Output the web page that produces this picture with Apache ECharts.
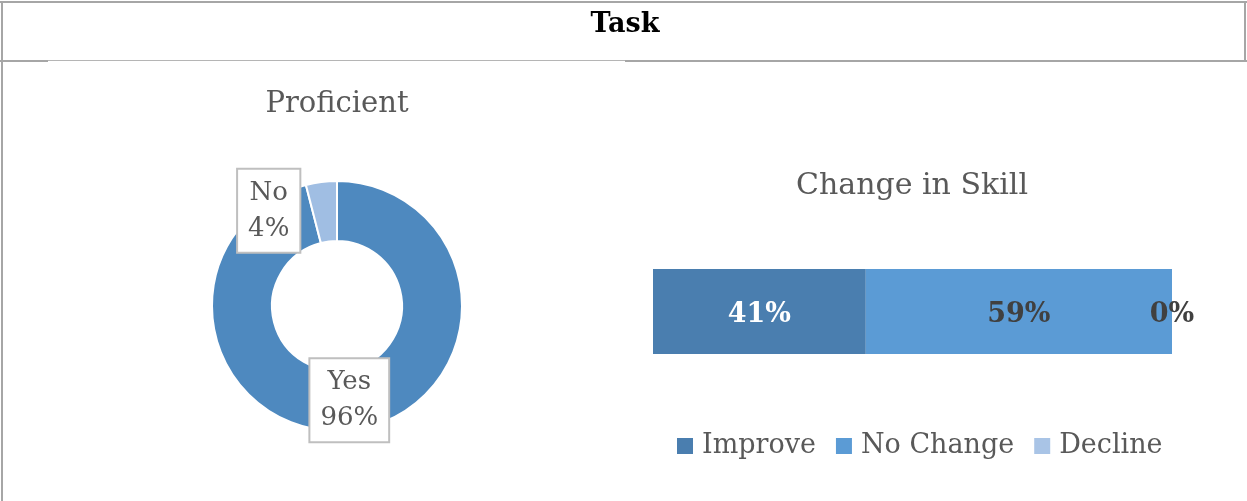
<!DOCTYPE html>
<html>
<head>
<meta charset="utf-8">
<script src="https://cdn.jsdelivr.net/npm/echarts@6/dist/echarts.min.js"></script>
<style>
html,body{margin:0;padding:0;background:#fff;}
#chart{width:1247px;height:501px;}
</style>
</head>
<body>
<div id="chart"></div>
<script>
// ---- data ----
const mainTitle = 'Task';
const pieTitle = 'Proficient';
const pieCategories = ['Yes', 'No'];
const pieValues = [96, 4];
const barTitle = 'Change in Skill';
const barRowLabel = ['Task'];
const barCategories = ['Improve', 'No Change', 'Decline'];
const barValues = [41, 59, 0];

// ---- style ----
const SERIF = 'DejaVu Serif';
const GRAY_TEXT = '#595959';
const RULE = '#a6a6a6';
const pieColors = ['#4E89BF', '#A0BEE3'];
const barColors = ['#4A7EAF', '#5B9BD5', '#A9C4E6'];
const barLabelColors = ['#ffffff', '#404040', '#404040'];

const chart = echarts.init(document.getElementById('chart'), null, {renderer: 'canvas'});

const option = {
  animation: false,
  backgroundColor: '#ffffff',
  title: [
    {text: mainTitle, left: 625, top: 11, textAlign: 'center', padding: 0,
     textStyle: {fontFamily: SERIF, fontSize: 27, fontWeight: 'bold', color: '#000'}},
    {text: pieTitle, left: 337, top: 90, textAlign: 'center', padding: 0,
     textStyle: {fontFamily: SERIF, fontSize: 29, fontWeight: 'normal', color: GRAY_TEXT}},
    {text: barTitle, left: 912, top: 171, textAlign: 'center', padding: 0,
     textStyle: {fontFamily: SERIF, fontSize: 30, fontWeight: 'normal', color: GRAY_TEXT}}
  ],
  legend: {
    data: barCategories,
    left: 677,
    top: 430,
    icon: 'rect',
    itemWidth: 16,
    itemHeight: 16,
    itemGap: 20,
    padding: 0,
    selectedMode: false,
    textStyle: {fontFamily: SERIF, fontSize: 27, color: GRAY_TEXT, lineHeight: 32, padding: [0, 0, 0, 4]}
  },
  grid: {left: 653, top: 269, width: 519, height: 85, containLabel: false},
  xAxis: {type: 'value', min: 0, max: 100, show: false},
  yAxis: {type: 'category', data: barRowLabel, show: false},
  series: [
    {
      type: 'pie',
      center: [337, 306],
      radius: [65, 125],
      startAngle: 90,
      clockwise: true,
      silent: true,
      itemStyle: {borderColor: '#fff', borderWidth: 2},
      label: {
        show: true,
        position: 'inside',
        formatter: '{b}\n{c}%',
        fontFamily: SERIF,
        fontSize: 26,
        lineHeight: 36,
        color: GRAY_TEXT,
        backgroundColor: '#fff',
        borderColor: '#bfbfbf',
        borderWidth: 2,
        padding: [5, 10]
      },
      labelLine: {show: false},
      data: pieCategories.map((name, i) => ({
        name: name,
        value: pieValues[i],
        itemStyle: {color: pieColors[i]},
        label: {offset: i === 1 ? [-56, 2] : [0, -3]}
      }))
    }
  ].concat(barCategories.map((name, i) => ({
    type: 'bar',
    name: name,
    stack: 'total',
    barWidth: '100%',
    silent: true,
    itemStyle: {color: barColors[i]},
    label: {
      show: true,
      position: 'inside',
      offset: [0, 3],
      formatter: '{c}%',
      fontFamily: SERIF,
      fontSize: 27,
      fontWeight: 'bold',
      color: barLabelColors[i]
    },
    data: [barValues[i]]
  }))),
  graphic: [
    {type: 'rect', shape: {x: 0, y: 1, width: 1247, height: 2}, style: {fill: RULE}, silent: true},
    {type: 'rect', shape: {x: 1, y: 1, width: 2, height: 500}, style: {fill: RULE}, silent: true},
    {type: 'rect', shape: {x: 1244, y: 1, width: 2, height: 61}, style: {fill: RULE}, silent: true},
    {type: 'rect', shape: {x: 0, y: 60, width: 48, height: 2}, style: {fill: RULE}, silent: true},
    {type: 'rect', shape: {x: 48, y: 60, width: 577, height: 1}, style: {fill: '#b5b5b5'}, silent: true},
    {type: 'rect', shape: {x: 625, y: 60, width: 622, height: 2}, style: {fill: RULE}, silent: true}
  ]
};
chart.setOption(option);
</script>
</body>
</html>
